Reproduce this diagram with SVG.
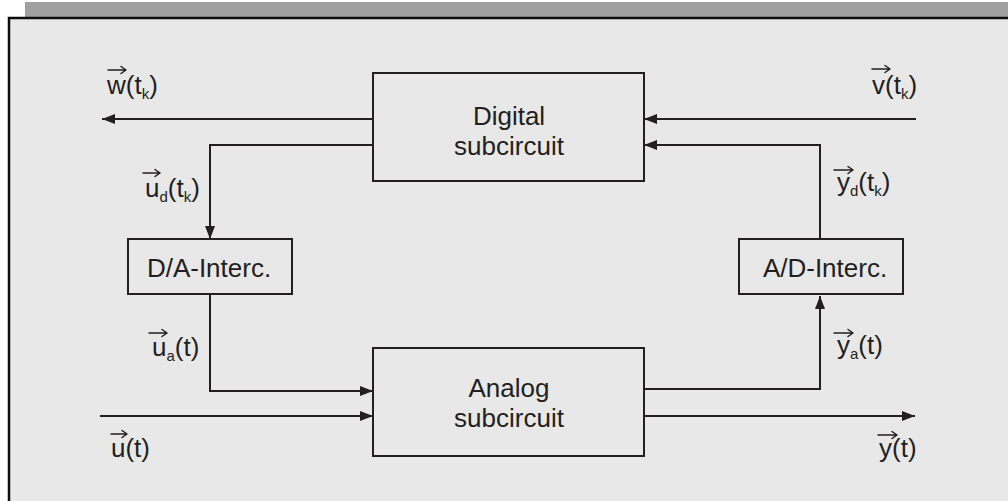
<svg xmlns="http://www.w3.org/2000/svg" width="1008" height="501" viewBox="0 0 1008 501">
  <defs>
    <marker id="arrow" markerUnits="userSpaceOnUse" markerWidth="14" markerHeight="11" refX="13" refY="5" orient="auto">
      <path d="M0,0 L13,5 L0,10 z" fill="#231f20"/>
    </marker>
    <style>
      .box { fill: #e8e8e8; stroke: #231f20; stroke-width: 2; }
      .wire { fill: none; stroke: #231f20; stroke-width: 2; marker-end: url(#arrow); }
      .vec { fill: none; stroke: #231f20; stroke-width: 1.5; stroke-linecap: round; stroke-linejoin: round; }
      text { font-family: "Liberation Sans", Arial, sans-serif; fill: #231f20; }
      .lbl { font-size: 26px; }
      .sub { font-size: 15px; }
      .name { font-size: 26px; text-anchor: middle; }
    </style>
  </defs>

  <!-- page background, shaded band and frame -->
  <rect x="0" y="0" width="1008" height="501" fill="#ffffff"/>
  <rect x="25" y="2" width="990" height="16" fill="#a0a0a0"/>
  <rect x="9" y="18" width="1020" height="500" fill="#e8e8e8" stroke="#0d0d0d" stroke-width="2.5"/>

  <!-- connectors -->
  <g id="connectors">
    <path class="wire" d="M373,119 H102"/>
    <path class="wire" d="M373,145 H210 V239"/>
    <path class="wire" d="M210,294 V391 H373"/>
    <path class="wire" d="M100,416 H373"/>
    <path class="wire" d="M644,416 H915"/>
    <path class="wire" d="M644,389 H820 V296"/>
    <path class="wire" d="M820,239 V145 H644"/>
    <path class="wire" d="M916,119 H644"/>
  </g>

  <!-- blocks -->
  <g id="digital">
    <rect class="box" x="373" y="73" width="271" height="108"/>
    <text class="name" x="509" y="125">Digital</text>
    <text class="name" x="509" y="155">subcircuit</text>
  </g>
  <g id="analog">
    <rect class="box" x="373" y="348" width="271" height="108"/>
    <text class="name" x="509" y="397">Analog</text>
    <text class="name" x="509" y="427">subcircuit</text>
  </g>
  <g id="da-interc">
    <rect class="box" x="128" y="239" width="164" height="55"/>
    <text class="name" x="209" y="277">D/A-Interc.</text>
  </g>
  <g id="ad-interc">
    <rect class="box" x="739" y="239" width="164" height="55"/>
    <text class="name" x="825" y="277">A/D-Interc.</text>
  </g>

  <!-- signal labels -->
  <g id="labels">
    <g id="lbl-w">
      <path class="vec" d="M108,70 H126 M121,66.5 L126,70 L121,73.5"/>
      <text class="lbl" x="107" y="94">w(t<tspan class="sub" dy="5">k</tspan><tspan dy="-5">)</tspan></text>
    </g>
    <g id="lbl-v">
      <path class="vec" d="M872,69 H890 M885,65.5 L890,69 L885,72.5"/>
      <text class="lbl" x="872" y="94">v(t<tspan class="sub" dy="5">k</tspan><tspan dy="-5">)</tspan></text>
    </g>
    <g id="lbl-ud">
      <path class="vec" d="M143,173 H160 M155,169.5 L160,173 L155,176.5"/>
      <text class="lbl" x="145" y="197">u<tspan class="sub" dy="5">d</tspan><tspan dy="-5">(t</tspan><tspan class="sub" dy="5">k</tspan><tspan dy="-5">)</tspan></text>
    </g>
    <g id="lbl-yd">
      <path class="vec" d="M834,170 H853 M848,166.5 L853,170 L848,173.5"/>
      <text class="lbl" x="837" y="191">y<tspan class="sub" dy="5">d</tspan><tspan dy="-5">(t</tspan><tspan class="sub" dy="5">k</tspan><tspan dy="-5">)</tspan></text>
    </g>
    <g id="lbl-ua">
      <path class="vec" d="M149,333 H167 M162,329.5 L167,333 L162,336.5"/>
      <text class="lbl" x="152" y="356">u<tspan class="sub" dy="5">a</tspan><tspan dy="-5">(t)</tspan></text>
    </g>
    <g id="lbl-ya">
      <path class="vec" d="M834,333 H853 M848,329.5 L853,333 L848,336.5"/>
      <text class="lbl" x="837" y="354">y<tspan class="sub" dy="5">a</tspan><tspan dy="-5">(t)</tspan></text>
    </g>
    <g id="lbl-u">
      <path class="vec" d="M111,434 H127 M122,430.5 L127,434 L122,437.5"/>
      <text class="lbl" x="111" y="457">u(t)</text>
    </g>
    <g id="lbl-y">
      <path class="vec" d="M878,435 H897 M892,431.5 L897,435 L892,438.5"/>
      <text class="lbl" x="879" y="457">y(t)</text>
    </g>
  </g>
</svg>
